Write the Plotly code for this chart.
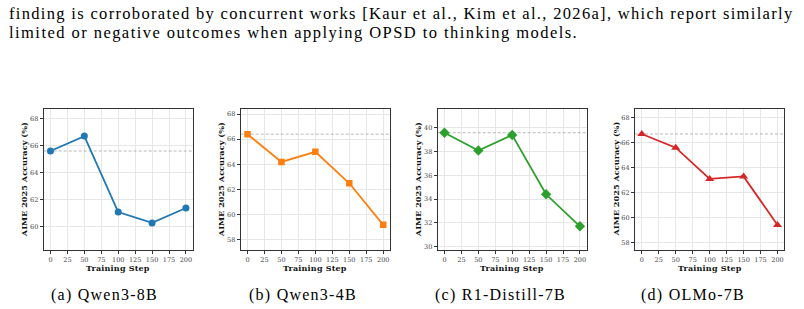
import plotly.graph_objects as go

# ---- data ----
steps = [0, 50, 100, 150, 200]
qwen3_8b = [65.6, 66.7, 61.1, 60.3, 61.4]
qwen3_4b = [66.4, 64.2, 65.0, 62.5, 59.2]
r1_distill_7b = [39.6, 38.1, 39.4, 34.4, 31.7]
olmo_7b = [66.7, 65.6, 63.1, 63.3, 59.4]
xticks = [0, 25, 50, 75, 100, 125, 150, 175, 200]
yticks_list = [[60, 62, 64, 66, 68], [58, 60, 62, 64, 66, 68],
               [30, 32, 34, 36, 38, 40], [58, 60, 62, 64, 66, 68]]
captions = ["(a) Qwen3-8B", "(b) Qwen3-4B", "(c) R1-Distill-7B", "(d) OLMo-7B"]
para_line1 = "finding is corroborated by concurrent works [Kaur et al., Kim et al., 2026a], which report similarly"
para_line2 = "limited or negative outcomes when applying OPSD to thinking models."
x_title = "Training Step"
y_title = "AIME 2025 Accuracy (%)"

series = [qwen3_8b, qwen3_4b, r1_distill_7b, olmo_7b]
colors = ["#1f77b4", "#ff7f0e", "#2ca02c", "#d62728"]
symbols = ["circle", "square", "diamond", "triangle-up"]
msizes = [7, 6.5, 8, 8]

W, H = 804, 309
xdom_px = [(43.7, 192.7), (240.7, 390.0), (437.7, 586.7), (635.0, 784.3)]
top_px, bot_px = 109, 250
caption_cx = [105, 303, 500.5, 693]
XR = [-10, 210]
SERIF = "Liberation Serif"
DJS = "DejaVu Serif"

def px_x(v):
    return v / W

def px_y(v):
    return 1 - v / H

def spaced(t, ls):
    return '<span style="letter-spacing:%.2fpx">%s</span>' % (ls, t)

fig = go.Figure()
annotations = []
layout = {}
for i, (vals, col, sym, ms) in enumerate(zip(series, colors, symbols, msizes)):
    n = "" if i == 0 else str(i + 1)
    xa, ya = "x" + n, "y" + n
    # baseline reference (step-0 accuracy), dashed
    fig.add_trace(go.Scatter(
        x=XR, y=[vals[0], vals[0]], mode="lines", xaxis=xa, yaxis=ya,
        line=dict(color="#999999", width=0.7, dash="3px,2px"),
        showlegend=False, hoverinfo="skip"))
    fig.add_trace(go.Scatter(
        x=steps, y=vals, mode="lines+markers", xaxis=xa, yaxis=ya,
        line=dict(color=col, width=1.8),
        marker=dict(symbol=sym, size=ms, color=col, line=dict(width=0)),
        showlegend=False, hoverinfo="skip"))
    x0, x1 = xdom_px[i]
    common = dict(showline=True, linecolor="#333333", linewidth=1.2, mirror=True,
                  ticks="outside", ticklen=3, tickwidth=0.8, tickcolor="#333333",
                  showgrid=True, gridcolor="#e6e6e6", gridwidth=0.8, zeroline=False,
                  tickfont=dict(family=DJS, size=6.5, color="#444444"))
    layout["xaxis" + n] = dict(domain=[px_x(x0), px_x(x1)], anchor=ya,
                               range=XR, tickvals=xticks, **common)
    layout["yaxis" + n] = dict(domain=[px_y(bot_px), px_y(top_px)], anchor=xa,
                               range=[min(vals) - 2, max(vals) + 2],
                               tickvals=yticks_list[i], **common)
    annotations.append(dict(text="<b>" + y_title + "</b>", xref="paper", yref="paper",
                            x=px_x(x0 - 20), y=px_y((top_px + bot_px) / 2),
                            textangle=-90, showarrow=False, xanchor="center", yanchor="middle",
                            font=dict(family=DJS, size=8.2, color="#111111")))
    annotations.append(dict(text="<b>" + spaced(x_title, 0.2) + "</b>", xref="paper", yref="paper",
                            x=px_x((x0 + x1) / 2), y=px_y(267.5),
                            showarrow=False, xanchor="center", yanchor="middle",
                            font=dict(family=DJS, size=8, color="#111111")))
    annotations.append(dict(text=spaced(captions[i], 1.25), xref="paper", yref="paper",
                            x=px_x(caption_cx[i]), y=px_y(295),
                            showarrow=False, xanchor="center", yanchor="middle",
                            font=dict(family=SERIF, size=16, color="#000000")))

annotations.append(dict(text=spaced(para_line1, 1.32), xref="paper", yref="paper",
                        x=px_x(7), y=px_y(13.5), showarrow=False,
                        xanchor="left", yanchor="middle",
                        font=dict(family=SERIF, size=16.5, color="#000000")))
annotations.append(dict(text=spaced(para_line2, 1.45), xref="paper", yref="paper",
                        x=px_x(7), y=px_y(33), showarrow=False,
                        xanchor="left", yanchor="middle",
                        font=dict(family=SERIF, size=16.5, color="#000000")))

fig.update_layout(width=W, height=H, margin=dict(l=0, r=0, t=0, b=0),
                  paper_bgcolor="white", plot_bgcolor="white",
                  annotations=annotations, **layout)
fig.write_html("out.html")
